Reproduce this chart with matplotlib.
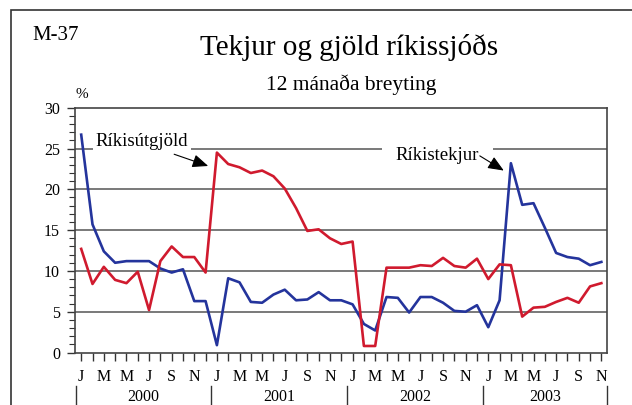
import numpy as np
import matplotlib
matplotlib.use("Agg")
import matplotlib.pyplot as plt
from matplotlib.patches import Rectangle
from matplotlib.lines import Line2D

plt.rcParams['font.family'] = ['Liberation Serif', 'DejaVu Serif']

# monthly 12-month change, Jan 2000 - Nov 2003
rikistekjur = [26.7, 15.7, 12.4, 11.0, 11.2, 11.2, 11.2, 10.3, 9.8, 10.2, 6.3, 6.3,
               0.9, 9.1, 8.6, 6.2, 6.1, 7.1, 7.7, 6.4, 6.5, 7.4, 6.4, 6.4,
               5.9, 3.5, 2.7, 6.8, 6.7, 4.9, 6.8, 6.8, 6.1, 5.1, 5.0, 5.8,
               3.1, 6.4, 23.2, 18.1, 18.3, 15.3, 12.2, 11.7, 11.5, 10.7, 11.1]
rikisutgjold = [12.7, 8.4, 10.5, 8.9, 8.5, 9.9, 5.2, 11.2, 13.0, 11.7, 11.7, 9.8,
                24.5, 23.1, 22.7, 22.0, 22.3, 21.6, 20.1, 17.7, 14.9, 15.1, 14.0, 13.3,
                13.6, 0.8, 0.8, 10.4, 10.4, 10.4, 10.7, 10.6, 11.6, 10.6, 10.4, 11.5,
                9.0, 10.8, 10.7, 4.4, 5.5, 5.6, 6.2, 6.7, 6.1, 8.1, 8.5]
month_letters = ['J', 'F', 'M', 'A', 'M', 'J', 'J', 'A', 'S', 'O', 'N', 'D']
years = ['2000', '2001', '2002', '2003']

n = len(rikistekjur)
x = np.arange(n)
blue = '#24349c'
red = '#d01a2e'

fig = plt.figure(figsize=(6.32, 4.05), dpi=100)
ax = fig.add_axes([0.119, 0.1296, 0.842, 0.6044])

# horizontal grid
for g in [5, 10, 15, 20, 25]:
    ax.axhline(g, color='#555555', lw=1.1, zorder=1)

ax.plot(x, rikistekjur, color=blue, lw=1.9, zorder=3)
ax.plot(x, rikisutgjold, color=red, lw=1.9, zorder=3)

ax.set_xlim(-0.53, n - 0.47)
ax.set_ylim(0, 30)
ax.set_yticks(range(0, 31, 5))
ax.set_yticks(range(0, 31), minor=True)
ax.tick_params(axis='y', which='major', length=6, width=1, pad=5, labelsize=11.5, color='#333333')
ax.tick_params(axis='y', which='minor', length=4, width=0.8, color='#333333')

ax.set_xticks(x)
ax.set_xticklabels([month_letters[i % 12] if i % 2 == 0 else '' for i in x])
ax.tick_params(axis='x', length=6, width=1, pad=6, labelsize=11.5, color='#333333')

for s in ax.spines.values():
    s.set_color('#444444')
    s.set_linewidth(1.2)

# year labels and separators under the axis
trans = ax.get_xaxis_transform()
for k, yr in enumerate(years):
    start = k * 12 - 0.5
    end = min(start + 12, n - 0.5)
    ax.text((start + end) / 2, -0.182, yr, transform=trans, ha='center', va='center',
            fontsize=11.5)
seps = [k * 12 - 0.5 for k in range(len(years))] + [n - 0.5]
for s in seps:
    ax.add_line(Line2D([s, s], [-0.137, -0.215], transform=trans, color='#333333',
                       lw=1, clip_on=False))

# series labels
ax.text(5.35, 25.9, 'Ríkisútgjöld', ha='center', va='center', fontsize=13.5, zorder=4,
        bbox=dict(boxstyle='square,pad=0.15', fc='white', ec='none'))
ax.text(31.5, 24.1, 'Ríkistekjur', ha='center', va='center', fontsize=13.5, zorder=4,
        bbox=dict(boxstyle='square,pad=0.75', fc='white', ec='none'))
arrow = dict(arrowstyle='-|>,head_length=0.6,head_width=0.25', color='black', lw=0.8,
             mutation_scale=16, shrinkA=0, shrinkB=0)
ax.annotate('', xy=(11.23, 22.86), xytext=(8.22, 24.3), arrowprops=arrow, zorder=5)
ax.annotate('', xy=(37.37, 22.3), xytext=(35.25, 24.1), arrowprops=arrow, zorder=5)

# titles and text
fig.text(0.552, 0.882, 'Tekjur og gjöld ríkissjóðs', ha='center', va='center', fontsize=21)
fig.text(0.556, 0.79, '12 mánaða breyting', ha='center', va='center', fontsize=15.5)
fig.text(0.052, 0.9, 'M-37', ha='left', va='baseline', fontsize=15)
fig.text(0.129, 0.757, '%', ha='center', va='baseline', fontsize=11)

# outer frame (only top-left part visible)
fig.patches.append(Rectangle((0.0174, -0.2), 1.2, 0.975 + 0.2, transform=fig.transFigure,
                             fill=False, ec='#333333', lw=1.2))

fig.savefig('out.png', dpi=100)
